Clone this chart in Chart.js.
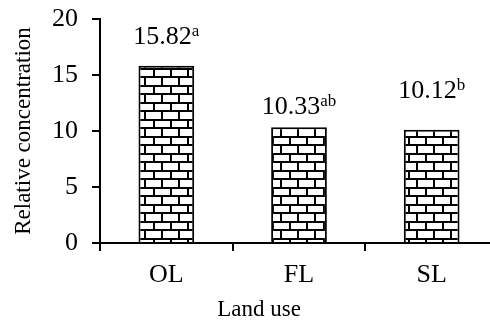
<!DOCTYPE html>
<html>
<head>
<meta charset="utf-8">
<script src="https://cdn.jsdelivr.net/npm/chart.js@4.4.0/dist/chart.umd.min.js"></script>
<style>
  html, body { margin: 0; padding: 0; background: #fff; overflow: hidden; }
  #wrap { width: 498px; height: 321px; }
</style>
</head>
<body>
<div id="wrap"><canvas id="chart"></canvas></div>
<script>
// data
const landUse = ['OL', 'FL', 'SL'];
const concentration = [15.82, 10.33, 10.12];
const letters = ['a', 'ab', 'b'];
const yTickMax = 20;
const yTickStep = 5;

const serif = '"Liberation Serif", "Times New Roman", serif';

// brick fill for the bars
function brickPattern() {
  const c = document.createElement('canvas');
  c.width = 34;
  c.height = 17;
  const g = c.getContext('2d');
  g.fillStyle = '#fff';
  g.fillRect(0, 0, 34, 17);
  g.fillStyle = '#000';
  // horizontal mortar
  g.fillRect(0, 0, 34, 2);
  g.fillRect(0, 8, 34, 2);
  // vertical joints, offset each row
  g.fillRect(0, 0, 2, 9);
  g.fillRect(17, 0, 2, 9);
  g.fillRect(8, 8, 2, 9);
  g.fillRect(25, 8, 2, 9);
  return g.createPattern(c, 'repeat');
}

const labelPlugin = {
  id: 'labels',
  afterDatasetsDraw(chart, args, opts) {
    const ctx = chart.ctx;
    const meta = chart.getDatasetMeta(0);
    ctx.save();
    ctx.fillStyle = '#000';
    meta.data.forEach((bar, i) => {
      const main = concentration[i].toFixed(2);
      ctx.font = '26px ' + serif;
      const w1 = ctx.measureText(main).width;
      ctx.font = '17px ' + serif;
      const w2 = ctx.measureText(letters[i]).width;
      const x0 = bar.x - (w1 + w2) / 2;
      const base = bar.y - opts.lift[i];
      ctx.textBaseline = 'alphabetic';
      ctx.textAlign = 'left';
      ctx.font = '26px ' + serif;
      ctx.fillText(main, x0, base);
      ctx.font = '17px ' + serif;
      ctx.fillText(letters[i], x0 + w1, base - 8);
    });

    // axis titles
    ctx.font = '23px ' + serif;
    ctx.textAlign = 'center';
    ctx.textBaseline = 'middle';
    ctx.fillText('Land use', 259, 310);
    ctx.translate(24, 131);
    ctx.rotate(-Math.PI / 2);
    ctx.fillText('Relative concentration', 0, 0);
    ctx.restore();
  }
};

new Chart(document.getElementById('chart'), {
  type: 'bar',
  data: {
    labels: landUse,
    datasets: [{
      data: concentration,
      backgroundColor: brickPattern(),
      borderColor: '#000',
      borderWidth: 2,
      barPercentage: 0.42,
      categoryPercentage: 1
    }]
  },
  options: {
    responsive: true,
    maintainAspectRatio: false,
    animation: false,
    layout: { padding: { top: 19, right: 0, bottom: 0, left: 0 } },
    plugins: {
      legend: { display: false },
      tooltip: { enabled: false },
      labels: { lift: [22, 13, 32] }
    },
    scales: {
      x: {
        offset: true,
        border: { color: '#000', width: 2 },
        grid: {
          offset: true,
          drawOnChartArea: false,
          drawTicks: true,
          tickLength: 8,
          color: '#000',
          lineWidth: 2
        },
        ticks: {
          color: '#000',
          padding: 9,
          font: { family: serif, size: 26 }
        },
        afterFit(scale) {
          scale.height = 78;
          scale.paddingLeft = 0;
          scale.paddingRight = 0;
        }
      },
      y: {
        min: 0,
        max: yTickMax,
        border: { color: '#000', width: 2 },
        grid: {
          drawOnChartArea: false,
          drawTicks: true,
          tickLength: 8,
          color: '#000',
          lineWidth: 2
        },
        ticks: {
          stepSize: yTickStep,
          color: '#000',
          padding: 14,
          font: { family: serif, size: 26 }
        },
        afterFit(scale) {
          scale.width = 100;
          scale.paddingTop = 0;
          scale.paddingBottom = 0;
        }
      }
    }
  },
  plugins: [labelPlugin]
});
</script>
</body>
</html>
